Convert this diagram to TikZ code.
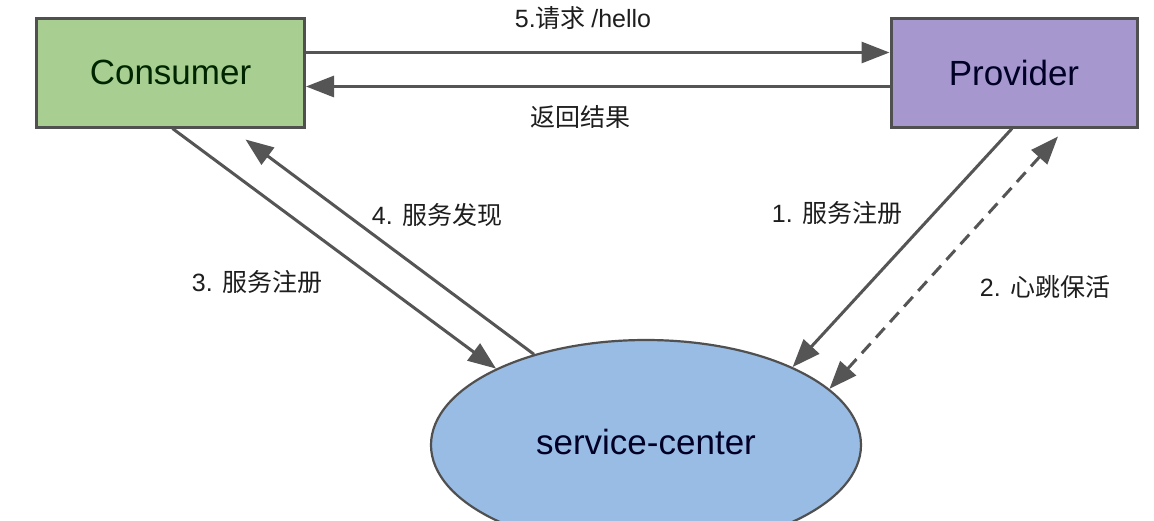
\documentclass[tikz,border=0pt]{standalone}
\usepackage{fontspec}
\setmainfont{Liberation Sans}
\newfontfamily\cjk{Noto Sans CJK SC}
\usetikzlibrary{arrows.meta,calc,shapes.geometric}
\definecolor{cgreen}{RGB}{168,206,146}
\definecolor{cpurple}{RGB}{166,152,206}
\definecolor{cblue}{RGB}{152,188,228}
\definecolor{cborder}{RGB}{80,80,80}
\definecolor{cline}{RGB}{85,85,85}
\definecolor{ctext}{RGB}{30,30,30}
\tikzset{
  boxnode/.style={draw=cborder, line width=3pt, minimum width=268pt, minimum height=109pt, inner sep=0pt, font=\fontsize{35}{40}\selectfont},
  centernode/.style={ellipse, draw=cborder, line width=2.2pt, fill=cblue, minimum width=430pt, minimum height=210pt, inner sep=0pt, font=\fontsize{35}{40}\selectfont, text=black!85!blue},
  tip/.style={Triangle[length=28pt,width=21pt]},
  conn/.style={draw=cline, line width=3pt, -{Triangle[length=28pt,width=21pt]}},
  dashconn/.style={draw=cline, line width=3pt, dash pattern=on 13pt off 8pt, {Triangle[length=28pt,width=21pt]}-{Triangle[length=28pt,width=21pt]}},
  lab/.style={font=\fontsize{25}{30}\selectfont, text=ctext, inner sep=0pt}
}
\begin{document}
\begin{tikzpicture}[x=1pt,y=-1pt]
\useasboundingbox (0,0) rectangle (1154,520);
\clip (0,0) rectangle (1154,520);
\fill[white] (0,0) rectangle (1154,520);
\node[boxnode, fill=cgreen, text=black!85!green] (consumer) at (170.5,72.5) {Consumer};
\node[boxnode, fill=cpurple, minimum width=246pt, text=black!85!blue] (provider) at (1014,72.5) {Provider};
\node[centernode] (sc) at (646,445) {\raisebox{6pt}{service-center}};
% top connectors
\draw[conn] ($(consumer.east)+(0,-20)$) -- ($(provider.west)+(0,-20)$);
\draw[conn] ($(provider.west)+(0,14)$) -- ($(consumer.east)+(0,14)$);
\node[lab] (l5) at (583,18) {5.\cjk 请求 \rmfamily/hello};
\node[lab] (lr) at (580,117) {\cjk 返回结果};
% consumer <-> center
\coordinate (c4) at ($(consumer.south)+(75,11)$);
\draw[conn] ($(consumer.south)+(2,0)$) -- (sc.153);
\draw[conn] (sc.141) -- (c4);
\node[lab] (l3) at (257,282) {3. \cjk 服务注册};
\node[lab] (l4) at (437,215) {4. \cjk 服务发现};
% provider <-> center
\coordinate (p2) at ($(provider.south)+(44,8)$);
\draw[conn] ($(provider.south)+(-2,0)$) -- (sc.28);
\draw[dashconn] (sc.17) -- (p2);
\node[lab] (l1) at (837,213) {1. \cjk 服务注册};
\node[lab] (l2) at (1045,287) {2. \cjk 心跳保活};
\end{tikzpicture}
\end{document}
